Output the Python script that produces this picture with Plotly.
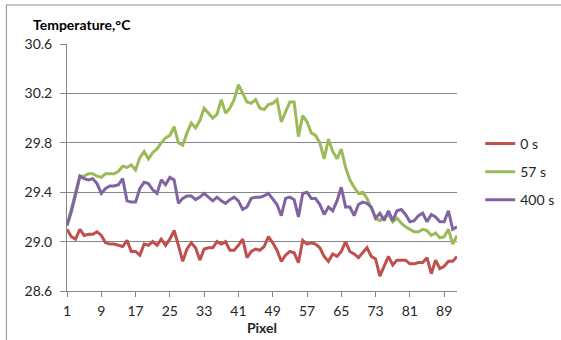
import plotly.graph_objects as go

# Temperature profile along the detector line at three exposure times
pixels = list(range(1, 93))

temp_0s = [
    29.10, 29.04, 29.02, 29.10, 29.05, 29.06, 29.06, 29.08, 29.05, 28.99,
    28.98, 28.98, 28.97, 28.96, 29.01, 28.92, 28.92, 28.89, 28.98, 28.97,
    29.00, 28.97, 29.02, 28.97, 29.02, 29.09, 28.97, 28.84, 28.94, 28.99,
    28.95, 28.85, 28.94, 28.95, 28.95, 29.00, 28.98, 29.00, 28.93, 28.93,
    28.97, 29.02, 28.87, 28.92, 28.94, 28.93, 28.96, 29.04, 28.99, 28.93,
    28.84, 28.89, 28.92, 28.91, 28.83, 29.01, 28.98, 28.99, 28.98, 28.95,
    28.88, 28.84, 28.90, 28.88, 28.92, 29.00, 28.92, 28.90, 28.87, 28.91,
    28.95, 28.88, 28.86, 28.72, 28.80, 28.88, 28.81, 28.85, 28.85, 28.85,
    28.82, 28.82, 28.83, 28.83, 28.87, 28.74, 28.85, 28.78, 28.80, 28.84,
    28.84, 28.88,
]

temp_57s = [
    29.13, 29.26, 29.40, 29.53, 29.53, 29.55, 29.55, 29.53, 29.52, 29.55,
    29.55, 29.55, 29.57, 29.61, 29.60, 29.62, 29.58, 29.68, 29.73, 29.67,
    29.72, 29.75, 29.80, 29.84, 29.86, 29.93, 29.80, 29.78, 29.88, 29.96,
    29.92, 29.98, 30.08, 30.04, 30.00, 30.03, 30.15, 30.04, 30.08, 30.15,
    30.27, 30.20, 30.13, 30.12, 30.15, 30.08, 30.07, 30.11, 30.12, 30.15,
    29.97, 30.05, 30.13, 30.13, 29.85, 30.02, 29.97, 29.88, 29.86, 29.80,
    29.67, 29.83, 29.73, 29.67, 29.75, 29.60, 29.50, 29.44, 29.39, 29.40,
    29.35, 29.27, 29.19, 29.17, 29.20, 29.22, 29.16, 29.19, 29.15, 29.12,
    29.10, 29.08, 29.08, 29.10, 29.09, 29.05, 29.07, 29.03, 29.04, 29.10,
    28.98, 29.05,
]

temp_400s = [
    29.13, 29.24, 29.38, 29.53, 29.51, 29.50, 29.51, 29.47, 29.39, 29.43,
    29.45, 29.45, 29.46, 29.51, 29.33, 29.32, 29.32, 29.43, 29.48, 29.47,
    29.42, 29.39, 29.50, 29.46, 29.52, 29.50, 29.31, 29.35, 29.37, 29.37,
    29.34, 29.36, 29.39, 29.36, 29.33, 29.36, 29.33, 29.31, 29.34, 29.36,
    29.33, 29.26, 29.28, 29.35, 29.36, 29.36, 29.37, 29.39, 29.34, 29.30,
    29.21, 29.35, 29.36, 29.34, 29.20, 29.39, 29.40, 29.35, 29.35, 29.30,
    29.22, 29.28, 29.25, 29.33, 29.44, 29.28, 29.28, 29.21, 29.30, 29.32,
    29.31, 29.28, 29.19, 29.23, 29.17, 29.25, 29.17, 29.25, 29.26, 29.22,
    29.16, 29.17, 29.21, 29.23, 29.16, 29.22, 29.20, 29.16, 29.16, 29.25,
    29.10, 29.12,
]

series_names = ["0 s", "57 s", "400 s"]
series_colors = ["#C0504D", "#9BBB59", "#8064A2"]

y_tick_values = [28.6, 29.0, 29.4, 29.8, 30.2, 30.6]
x_tick_values = [1, 9, 17, 25, 33, 41, 49, 57, 65, 73, 81, 89]

FONT = "Lato, 'Open Sans', sans-serif"
AXIS_GRAY = "#868686"
TEXT = "#262626"

fig = go.Figure()
for name, values, color in zip(series_names,
                               [temp_0s, temp_57s, temp_400s],
                               series_colors):
    fig.add_trace(go.Scatter(
        x=pixels, y=values, name=name, mode="lines",
        legendgroup=name,
        line=dict(color=color, width=3),
    ))

fig.update_layout(
    width=561, height=340,
    margin=dict(l=67, r=104, t=44, b=49, autoexpand=False),
    paper_bgcolor="white", plot_bgcolor="white",
    font=dict(family=FONT, size=14, color=TEXT),
    showlegend=True,
    legend=dict(
        xref="container", yref="container",
        x=0.856, y=0.624, xanchor="left", yanchor="top",
        bgcolor="rgba(0,0,0,0)", borderwidth=0,
        tracegroupgap=7,
        font=dict(family=FONT, size=14, color=TEXT),
    ),
    xaxis=dict(
        range=[1, 92],
        tickmode="array", tickvals=x_tick_values,
        ticktext=[str(v) for v in x_tick_values],
        showgrid=False, zeroline=False,
        showline=True, linecolor=AXIS_GRAY, linewidth=1,
        ticks="outside", ticklen=5, tickcolor=AXIS_GRAY,
        ticklabelstandoff=2,
        tickfont=dict(family=FONT, size=14, color=TEXT),
        title=dict(text="<b>Pixel</b>", standoff=0,
                   font=dict(family=FONT, size=14, color=TEXT)),
    ),
    yaxis=dict(
        range=[28.6, 30.6],
        tickmode="array", tickvals=y_tick_values,
        ticktext=[f"{v:.1f}" for v in y_tick_values],
        showgrid=True, gridcolor=AXIS_GRAY, gridwidth=1,
        zeroline=False,
        showline=True, linecolor=AXIS_GRAY, linewidth=1,
        ticks="outside", ticklen=6, tickcolor=AXIS_GRAY,
        ticklabelstandoff=5,
        tickfont=dict(family=FONT, size=14, color=TEXT),
    ),
)

# Axis caption placed above the value axis
fig.add_annotation(
    text="<b>Temperature,°C</b>", xref="paper", yref="paper",
    x=-0.092, y=1.077, xanchor="left", yanchor="middle",
    showarrow=False, font=dict(family=FONT, size=14, color="#000000"),
)

# Chart-area frame
fig.add_shape(
    type="rect", xref="paper", yref="paper",
    x0=-0.1555, x1=1.3, y0=-0.23, y1=1.158,
    line=dict(color="#8c8c8c", width=1), fillcolor="rgba(0,0,0,0)",
    layer="below",
)

fig.write_html("out.html")
